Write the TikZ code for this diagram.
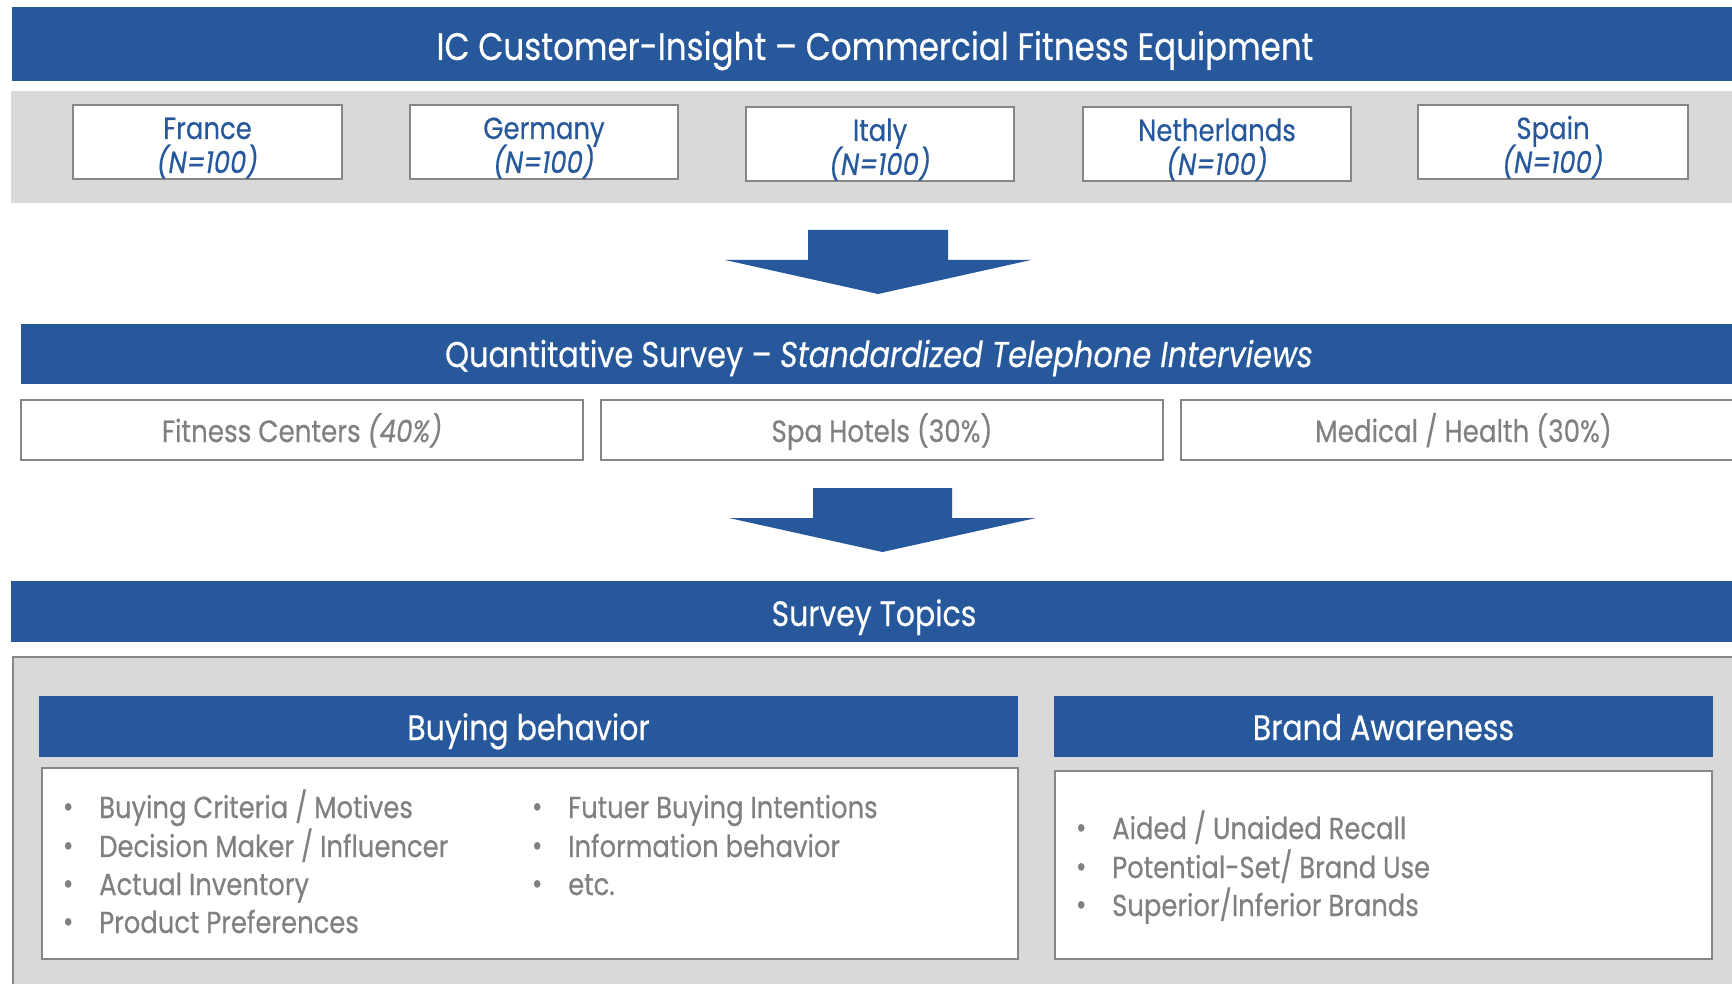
\documentclass[tikz,border=0pt]{standalone}
\usepackage{fontspec}
\setmainfont{Poppins}[FakeStretch=0.85, FakeBold=0.4]
\definecolor{barblue}{HTML}{26589B}
\definecolor{txtgray}{HTML}{808080}
\definecolor{panelgray}{HTML}{D9D9D9}
\definecolor{linegray}{HTML}{868686}
\newcommand\fsz[1]{\fontsize{#1}{#1}\selectfont}
\tikzset{
  bar/.style={fill=barblue},
  bartext/.style={text=white, anchor=base, inner sep=0pt},
  cbox/.style={draw=linegray, line width=2.5pt, fill=white, inner sep=0pt},
  ctext/.style={text=barblue, anchor=base, inner sep=0pt, font=\fsz{30.5}},
  gtext/.style={text=txtgray, anchor=base, inner sep=0pt, font=\fsz{30.8}},
  itemline/.style={text=txtgray, anchor=base west, inner sep=0pt, font=\fsz{30.4}},
  bigarrow/.style={fill=barblue},
}
\newcommand\bul{\makebox[0pt]{\raisebox{1pt}{\textbullet}}\hspace{31pt}}
\begin{document}
\begin{tikzpicture}[x=1pt,y=-1pt]
\useasboundingbox (0,0) rectangle (1732,984);
\clip (0,0) rectangle (1732,984);
\fill[white] (0,0) rectangle (1732,984);

% title bar
\fill[bar] (12,7) rectangle (1740,81);
\node[bartext, font=\fsz{38.3}] (title) at (875,60) {IC Customer-Insight – Commercial Fitness Equipment};

% countries band
\fill[panelgray] (11,91) rectangle (1740,203);
\node[cbox, minimum width=269pt, minimum height=74pt] (fr) at (207.5,142) {};
\node[cbox, minimum width=268pt, minimum height=74pt] (de) at (544,142) {};
\node[cbox, minimum width=268pt, minimum height=74pt] (it) at (880,144) {};
\node[cbox, minimum width=268pt, minimum height=74pt] (nl) at (1217,144) {};
\node[cbox, minimum width=270pt, minimum height=74pt] (es) at (1553,142) {};
\node[ctext] (frn) at (207.5,139) {France};
\node[ctext] (frs) at (207.5,173) {\itshape (N=100)};
\node[ctext] (den) at (544,139) {Germany};
\node[ctext] (des) at (544,173) {\itshape (N=100)};
\node[ctext] (itn) at (880,141) {Italy};
\node[ctext] (its) at (880,175) {\itshape (N=100)};
\node[ctext] (nln) at (1217,141) {Netherlands};
\node[ctext] (nls) at (1217,175) {\itshape (N=100)};
\node[ctext] (esn) at (1553,139) {Spain};
\node[ctext] (ess) at (1553,173) {\itshape (N=100)};

% first block arrow
\fill[bigarrow] (808,230) -- (948,230) -- (948,260) -- (1031,260) -- (878,294)
  -- (725,260) -- (808,260) -- cycle;

% survey bar
\fill[bar] (21,324) rectangle (1740,384);
\node[bartext, font=\fsz{35.8}] (survey) at (879,367) {Quantitative Survey – \textit{Standardized Telephone Interviews}};
\node[cbox, minimum width=562pt, minimum height=60pt] (fit) at (302,430) {};
\node[cbox, minimum width=562pt, minimum height=60pt] (spa) at (882,430) {};
\node[cbox, minimum width=565pt, minimum height=60pt] (med) at (1463.5,430) {};
\node[gtext] (fitt) at (302,442) {Fitness Centers \textit{(40\%)}};
\node[gtext] (spat) at (882,442) {Spa Hotels (30\%)};
\node[gtext] (medt) at (1463.5,442) {Medical / Health (30\%)};

% second block arrow
\fill[bigarrow] (813,488) -- (952,488) -- (952,518) -- (1036,518) -- (882.5,552)
  -- (729,518) -- (813,518) -- cycle;

% topics bar
\fill[bar] (11,581) rectangle (1740,642);
\node[bartext, font=\fsz{35.2}] (topics) at (874,626) {Survey Topics};

% topics panel
\filldraw[fill=panelgray, draw=linegray, line width=2.5pt] (13,657) rectangle (1760,1000);

% buying behavior
\fill[bar] (39,696) rectangle (1018,757);
\node[bartext, font=\fsz{35.3}] (bbh) at (528.5,740) {Buying behavior};
\node[cbox, minimum width=976pt, minimum height=191pt] (bbbox) at (530,863.5) {};
\node[itemline] (bb1) at (68,818) {\bul Buying Criteria / Motives};
\node[itemline] (bb2) at (68,857) {\bul Decision Maker / Influencer};
\node[itemline] (bb3) at (68,895) {\bul Actual Inventory};
\node[itemline] (bb4) at (68,933) {\bul Product Preferences};
\node[itemline] (bb5) at (537,818) {\bul Futuer Buying Intentions};
\node[itemline] (bb6) at (537,857) {\bul Information behavior};
\node[itemline] (bb7) at (537,895) {\bul etc.};

% brand awareness
\fill[bar] (1054,696) rectangle (1713,757);
\node[bartext, font=\fsz{35.3}] (bah) at (1383.5,740) {Brand Awareness};
\node[cbox, minimum width=657pt, minimum height=188pt] (babox) at (1383.5,865) {};
\node[itemline] (ba1) at (1081,839) {\bul Aided / Unaided Recall};
\node[itemline] (ba2) at (1081,878) {\bul Potential-Set/ Brand Use};
\node[itemline] (ba3) at (1081,916) {\bul Superior/Inferior Brands};
\end{tikzpicture}
\end{document}
